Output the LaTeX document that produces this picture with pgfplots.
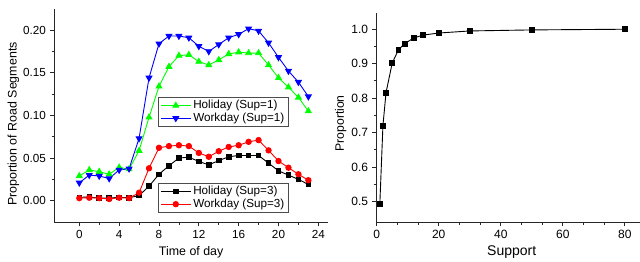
\documentclass[border=0pt]{standalone}
\usepackage{fontspec}
\setmainfont{Liberation Sans}
\usepackage{pgfplots}
\pgfplotsset{compat=1.18}
\begin{document}
\fontsize{11.5bp}{13bp}\selectfont
\begin{tikzpicture}[x=1bp,y=1bp]
\useasboundingbox (0bp,0bp) rectangle (640bp,262bp);
\clip (0bp,0bp) rectangle (640bp,262bp);
\pgfplotsset{
  base/.style={scale only axis, axis x line=bottom, axis y line=left,
    axis line style={-, line width=1bp, black!85},
    tick align=outside, major tick length=4bp, minor tick length=2.5bp,
    every tick/.style={black!85, line width=0.8bp},
    tick label style={font=\fontsize{11.7bp}{13bp}\selectfont},
    label style={font=\fontsize{12.4bp}{14bp}\selectfont},
    /pgf/number format/assume math mode=true,
    clip=false},
  legbase/.style={legend cell align=left,
    legend style={draw=black!70, line width=0.8bp, fill=white, inner xsep=2bp, inner ysep=1bp, row sep=-1.5bp,
      font=\fontsize{11.7bp}{13bp}\selectfont, anchor=north west},
    legend image code/.code={\draw[mark repeat=2,mark phase=2] plot coordinates {(0bp,0bp) (15bp,0bp) (30bp,0bp)};}},
  ser/.style={line width=0.9bp, mark options={solid}}
}
% left panel, Sup=1
\begin{axis}[base, legbase, at={(54bp,39.7bp)}, anchor=south west, width=274.3bp, height=213bp,
  xmin=-2.54, xmax=25.0, ymin=-0.0253, ymax=0.2243,
  xtick={0,4,...,24}, minor x tick num=1,
  ytick={0,0.05,0.10,0.15,0.20}, minor y tick num=1,
  yticklabel style={/pgf/number format/fixed, /pgf/number format/fixed zerofill, /pgf/number format/precision=2},
  xlabel={Time of day}, ylabel={Proportion of Road Segments},
  xlabel style={at={(axis description cs:0.5,0)}, anchor=center, yshift=-29.5bp},
  ylabel style={at={(axis description cs:-0.148,0.4615)}, anchor=center},
  legend style={at={(axis description cs:0.379,0.588)}}]
\addplot[ser, color={rgb,255:red,0;green,255;blue,0}, mark=triangle*, mark size=3.3bp] coordinates {
(0,0.029) (1,0.036) (2,0.034) (3,0.031) (4,0.039) (5,0.037) (6,0.0586) (7,0.0977) (8,0.134) (9,0.157) (10,0.170) (11,0.171) (12,0.163) (13,0.159) (14,0.165) (15,0.172) (16,0.174) (17,0.173) (18,0.173) (19,0.159) (20,0.144) (21,0.133) (22,0.121) (23,0.105)};
\addlegendentry{Holiday (Sup=1)}
\addplot[ser, color={rgb,255:red,0;green,0;blue,255}, mark=triangle*, mark size=3.3bp, mark options={rotate=180}] coordinates {
(0,0.021) (1,0.030) (2,0.029) (3,0.026) (4,0.036) (5,0.0375) (6,0.073) (7,0.144) (8,0.184) (9,0.193) (10,0.193) (11,0.191) (12,0.181) (13,0.175) (14,0.183) (15,0.191) (16,0.195) (17,0.2016) (18,0.199) (19,0.185) (20,0.168) (21,0.152) (22,0.139) (23,0.122)};
\addlegendentry{Workday (Sup=1)}
\end{axis}
% left panel, Sup=3
\begin{axis}[base, legbase, hide axis, at={(54bp,39.7bp)}, anchor=south west, width=274.3bp, height=213bp,
  xmin=-2.54, xmax=25.0, ymin=-0.0253, ymax=0.2243,
  legend style={at={(axis description cs:0.379,0.1845)}}]
\addplot[ser, color=black, mark=square*, mark size=2.3bp] coordinates {
(0,0.004) (1,0.0043) (2,0.003) (3,0.003) (4,0.004) (5,0.0035) (6,0.006) (7,0.017) (8,0.031) (9,0.041) (10,0.050) (11,0.051) (12,0.046) (13,0.042) (14,0.047) (15,0.0515) (16,0.053) (17,0.053) (18,0.053) (19,0.044) (20,0.035) (21,0.030) (22,0.025) (23,0.019)};
\addlegendentry{Holiday (Sup=3)}
\addplot[ser, color={rgb,255:red,255;green,0;blue,0}, mark=*, mark size=2.7bp] coordinates {
(0,0.003) (1,0.0035) (2,0.003) (3,0.002) (4,0.0035) (5,0.003) (6,0.0094) (7,0.038) (8,0.062) (9,0.064) (10,0.065) (11,0.064) (12,0.056) (13,0.0515) (14,0.058) (15,0.063) (16,0.065) (17,0.069) (18,0.071) (19,0.059) (20,0.0465) (21,0.0387) (22,0.031) (23,0.024)};
\addlegendentry{Workday (Sup=3)}
\end{axis}
% right panel
\begin{axis}[base, at={(376.1bp,39.7bp)}, anchor=south west, width=263.9bp, height=209.6bp,
  xmin=-0.2, xmax=84.9, ymin=0.4395, ymax=1.048,
  xtick={0,20,40,60,80}, minor x tick num=2,
  ytick={0.5,0.6,0.7,0.8,0.9,1.0}, minor y tick num=1,
  tick label style={font=\fontsize{12bp}{13bp}\selectfont},
  yticklabel style={/pgf/number format/fixed, /pgf/number format/fixed zerofill, /pgf/number format/precision=1},
  xlabel={Support}, ylabel={Proportion},
  xlabel style={at={(axis description cs:0.514,0)}, anchor=center, yshift=-30bp, font=\fontsize{14bp}{16bp}\selectfont},
  ylabel style={at={(axis description cs:-0.134,0.472)}, anchor=center, font=\fontsize{12.2bp}{14bp}\selectfont}]
\addplot[ser, color=black, mark=square*, mark size=2.4bp] coordinates {
(1,0.492) (2,0.72) (3,0.816) (5,0.902) (7,0.94) (9,0.958) (12,0.975) (15,0.983) (20,0.989) (30,0.995) (50,0.998) (80,1.0)};
\end{axis}
\end{tikzpicture}
\end{document}
